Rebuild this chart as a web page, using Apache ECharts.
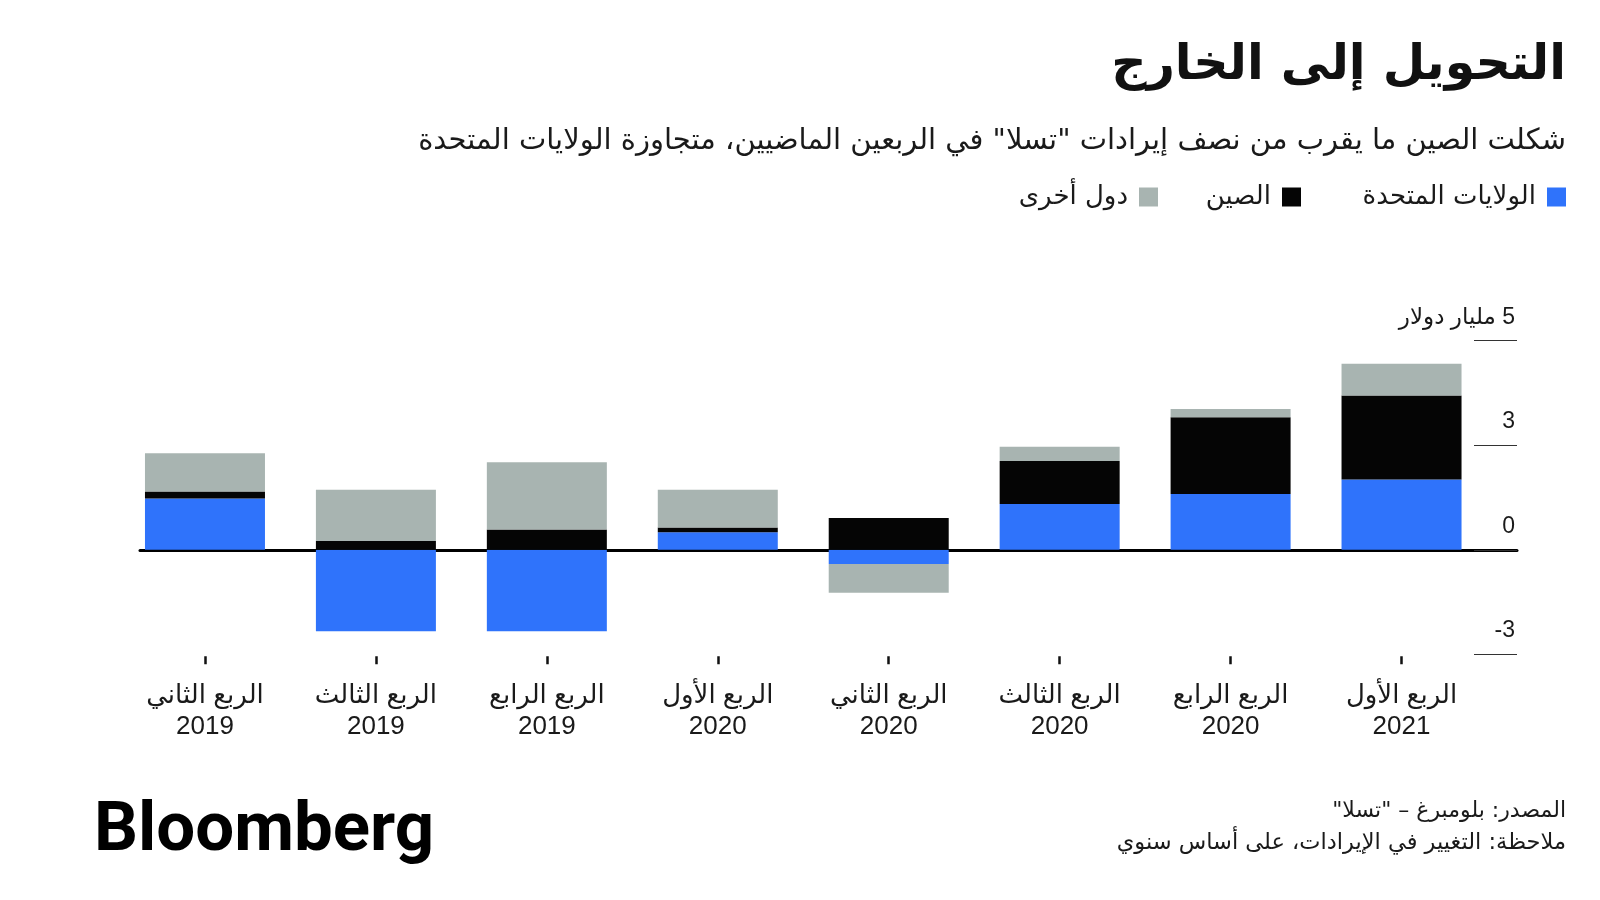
<!DOCTYPE html>
<html>
<head>
<meta charset="utf-8">
<script src="https://cdn.jsdelivr.net/npm/echarts@6/dist/echarts.min.js"></script>
<style>
  body { margin: 0; background: #fff; }
  #chart { width: 1600px; height: 900px; }
</style>
</head>
<body>
<div id="chart"></div>
<script>
// الأرباع (من اليسار إلى اليمين)
var categories = [
  'الربع الثاني\n2019', 'الربع الثالث\n2019', 'الربع الرابع\n2019', 'الربع الأول\n2020',
  'الربع الثاني\n2020', 'الربع الثالث\n2020', 'الربع الرابع\n2020', 'الربع الأول\n2021'
];
// التغير السنوي في الإيرادات، مليار دولار
var usValues    = [1.47, -2.34, -2.34, 0.50, -0.41, 1.31, 1.60, 2.02];
var chinaValues = [0.20,  0.25,  0.58, 0.14,  0.91, 1.24, 2.20, 2.41];
var otherValues = [1.10,  1.47,  1.93, 1.08, -0.82, 0.41, 0.24, 0.91];
var yTickValues = [-3, 0, 3, 6];
var yTickLabels = ['-3', '0', '3', '\u200F5 مليار دولار'];

var seriesNames = ['الولايات المتحدة', 'الصين', 'دول أخرى'];
var colors = ['#2f73fb', '#050505', '#a8b4b1'];

var AR = '"DejaVu Sans", sans-serif';
var MIX = '"Liberation Sans", "DejaVu Sans", sans-serif';
var TEXT = '#1a1a1a';

var Chart = echarts.init(document.getElementById('chart'));

function legendAt(i, right) {
  return {
    data: [seriesNames[i]],
    right: right,
    top: 184,
    padding: 0,
    align: 'right',
    itemWidth: 19,
    itemHeight: 19,
    icon: 'rect',
    selectedMode: false,
    textStyle: { fontFamily: AR, fontSize: 26, color: TEXT, padding: [0, 6, 0, 0] }
  };
}

Chart.setOption({
  backgroundColor: '#fff',
  animation: false,
  title: [
    { text: 'التحويل إلى الخارج', right: 34, top: 35, padding: 0,
      textStyle: { fontFamily: AR, fontSize: 49, fontWeight: 'bold', color: '#111', lineHeight: 62 } },
    { text: 'شكلت الصين ما يقرب من نصف إيرادات "تسلا" في الربعين الماضيين، متجاوزة الولايات المتحدة', right: 34, top: 125, padding: 0,
      textStyle: { fontFamily: AR, fontSize: 29, fontWeight: 'normal', color: TEXT, lineHeight: 32 } },
    { text: '\u200Fالمصدر: بلومبرغ – "تسلا"\u200F', right: 34, top: 799, padding: 0,
      textStyle: { fontFamily: AR, fontSize: 22, fontWeight: 'normal', color: TEXT, lineHeight: 25 } },
    { text: 'ملاحظة: التغيير في الإيرادات، على أساس سنوي', right: 34, top: 831, padding: 0,
      textStyle: { fontFamily: AR, fontSize: 22.5, fontWeight: 'normal', color: TEXT, lineHeight: 25 } }
  ],
  legend: [legendAt(0, 34), legendAt(1, 299), legendAt(2, 442)],
  graphic: [
    { type: 'text', left: 94, top: 798,
      style: { text: 'Bloomberg', fill: '#000', font: 'bold 69px Roboto' } }
  ],
  grid: [
    { left: 119.5, right: 113, top: 340.7, bottom: 245.7 },
    { left: 140, right: 83, top: 340.7, bottom: 245.7 }
  ],
  xAxis: [
    {
      type: 'category', gridIndex: 0, data: categories, position: 'bottom', offset: 2,
      axisLine: { show: false, onZero: false },
      axisTick: { show: true, alignWithLabel: true, length: 8, lineStyle: { color: '#111', width: 2.5 } },
      axisLabel: { margin: 24, fontFamily: MIX, fontSize: 26, lineHeight: 31, color: TEXT, interval: 0 }
    },
    {
      type: 'value', gridIndex: 1, min: 0, max: 1,
      axisLine: { show: true, onZero: true, lineStyle: { color: '#000', width: 3 } },
      axisTick: { show: false }, axisLabel: { show: false }, splitLine: { show: false }
    }
  ],
  yAxis: [
    { type: 'value', gridIndex: 0, min: -3, max: 6, interval: 3, show: false },
    {
      type: 'value', gridIndex: 1, position: 'right', min: -3, max: 6, interval: 3,
      axisLine: { show: false, onZero: false },
      axisTick: { show: true, inside: true, length: 43, lineStyle: { color: '#333', width: 1 } },
      splitLine: { show: false },
      axisLabel: {
        inside: true, margin: 2, showMinLabel: true, showMaxLabel: true,
        fontFamily: MIX, fontSize: 23, color: TEXT, verticalAlign: 'bottom', padding: [0, 0, 12, 0],
        formatter: function (v) { return yTickLabels[yTickValues.indexOf(v)]; }
      }
    }
  ],
  series: [
    { name: seriesNames[0], type: 'bar', stack: 'total', barWidth: 120, data: usValues, itemStyle: { color: colors[0] } },
    { name: seriesNames[1], type: 'bar', stack: 'total', barWidth: 120, data: chinaValues, itemStyle: { color: colors[1] } },
    { name: seriesNames[2], type: 'bar', stack: 'total', barWidth: 120, data: otherValues, itemStyle: { color: colors[2] } }
  ]
});
</script>
</body>
</html>
